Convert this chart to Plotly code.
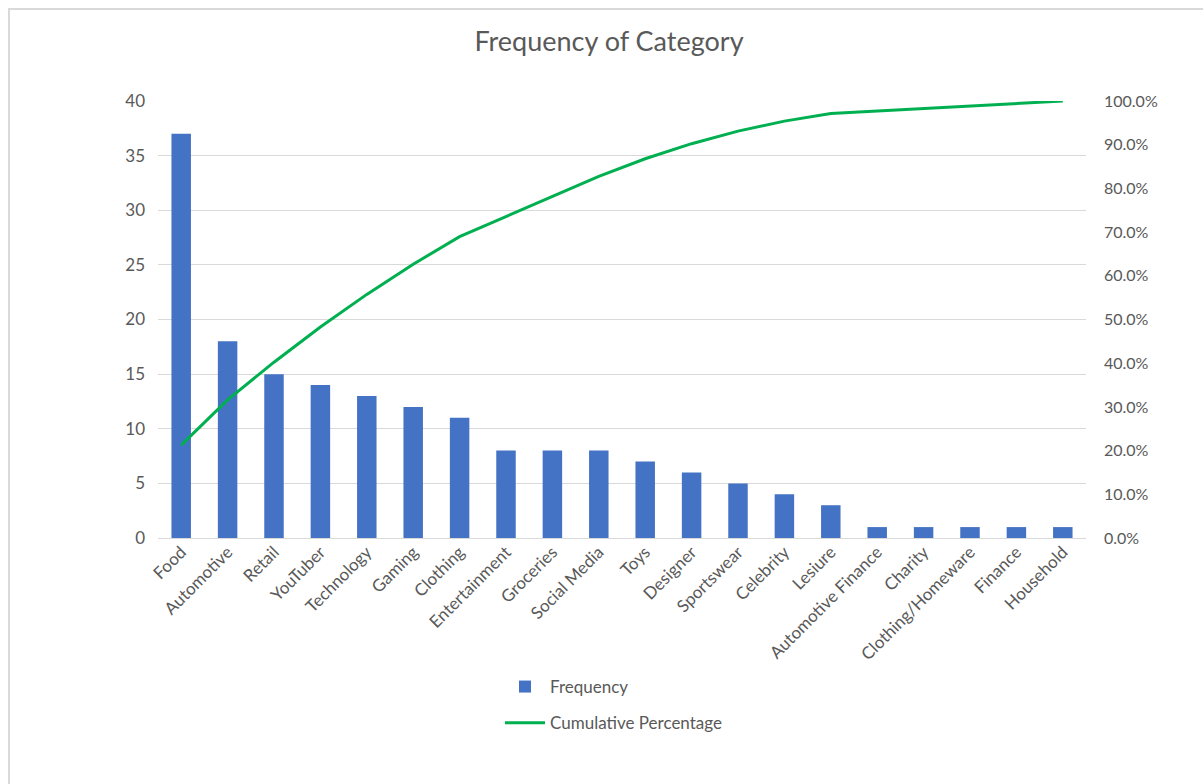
import plotly.graph_objects as go

categories = ["Food", "Automotive", "Retail", "YouTuber", "Technology", "Gaming", "Clothing",
              "Entertainment", "Groceries", "Social Media", "Toys", "Designer", "Sportswear",
              "Celebrity", "Lesiure", "Automotive Finance", "Charity", "Clothing/Homeware",
              "Finance", "Household"]
frequency = [37, 18, 15, 14, 13, 12, 11, 8, 8, 8, 7, 6, 5, 4, 3, 1, 1, 1, 1, 1]
cumulative_pct = [0.2126, 0.3161, 0.4023, 0.4828, 0.5575, 0.6264, 0.6897, 0.7356, 0.7816,
                  0.8276, 0.8678, 0.9023, 0.9310, 0.9540, 0.9713, 0.9770, 0.9828, 0.9885,
                  0.9943, 1.0]

W, H = 1203, 784
L, R, T, B = 158, 1086, 101, 538
pw, ph = R - L, B - T

def px(x):
    return (x - L) / pw

def py(y):
    return (B - y) / ph

font_color = "#595959"
fam = "Lato, Carlito, Calibri, sans-serif"
tick_size = 17

fig = go.Figure()
fig.add_trace(go.Bar(x=categories, y=frequency, name="Frequency", legendgroup="a",
                     marker=dict(color="#4472C4", line=dict(width=0)), yaxis="y"))
fig.add_trace(go.Scatter(x=categories, y=cumulative_pct, name="Cumulative Percentage",
                         legendgroup="b", mode="lines",
                         line=dict(color="#00B050", width=3), yaxis="y2"))

fig.update_layout(
    width=W, height=H,
    margin=dict(l=L, r=W - R, t=T, b=H - B, autoexpand=False),
    paper_bgcolor="white", plot_bgcolor="white",
    font=dict(family=fam, color=font_color, size=tick_size),
    title=dict(text="Frequency of Category", x=609 / W, xref="container", xanchor="center",
               y=1 - 42 / H, yanchor="middle",
               font=dict(size=27, color=font_color, family=fam)),
    bargap=0.58,
    xaxis=dict(tickangle=-45, showgrid=False, showline=False, ticks="",
               tickfont=dict(size=tick_size, color=font_color)),
    yaxis=dict(range=[0, 40], dtick=5, showgrid=True, gridcolor="#D9D9D9", gridwidth=1,
               zeroline=True, zerolinecolor="#D9D9D9", zerolinewidth=1,
               showline=False, ticks="", ticklabelstandoff=12,
               tickfont=dict(size=tick_size, color=font_color)),
    yaxis2=dict(range=[0, 1], dtick=0.1, tickformat=".1%", overlaying="y", side="right",
                showgrid=False, zeroline=False, showline=False, ticks="", ticklabelstandoff=17,
                tickfont=dict(size=tick_size - 1, color=font_color)),
    legend=dict(orientation="v", x=px(500), y=py(669), xanchor="left", yanchor="top",
                bgcolor="rgba(0,0,0,0)", font=dict(size=17, color=font_color),
                itemwidth=40, tracegroupgap=11, traceorder="grouped"),
    showlegend=True,
    shapes=[dict(type="rect", xref="paper", yref="paper",
                 x0=px(9), x1=px(1215), y0=py(9), y1=py(800),
                 line=dict(color="#D9D9D9", width=2), fillcolor="rgba(0,0,0,0)", layer="below")],
)

fig.write_html("out.html")
